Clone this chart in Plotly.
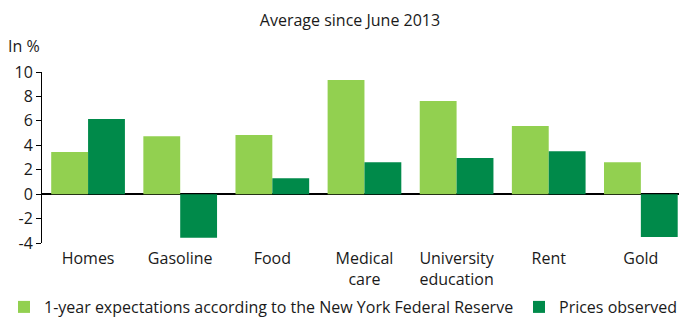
import plotly.graph_objects as go

categories = ["Homes", "Gasoline", "Food", "Medical<br>care", "University<br>education", "Rent", "Gold"]
expectations = [3.45, 4.75, 4.84, 9.34, 7.62, 5.57, 2.62]
observed = [6.15, -3.58, 1.31, 2.62, 2.95, 3.52, -3.5]
y_ticks = [-4, -2, 0, 2, 4, 6, 8, 10]
y_ticktext = ["-4", "-2", "0", "2", "4", "6", "8", "10"]

FONT = "Open Sans"
TXT = "#1a1a1a"
W, H = 679, 318

fig = go.Figure()
fig.add_trace(go.Bar(
    x=categories, y=expectations,
    name="1-year expectations according to the New York Federal Reserve",
    marker=dict(color="#92D050", line=dict(width=0)),
    legend="legend",
))
fig.add_trace(go.Bar(
    x=categories, y=observed,
    name="Prices observed",
    marker=dict(color="#008A4A", line=dict(width=0)),
    legend="legend2",
))

leg_common = dict(orientation="h", xref="container", yref="container",
                  xanchor="left", yanchor="middle", y=1 - 307 / H,
                  font=dict(size=16, color=TXT), itemwidth=30,
                  bgcolor="rgba(0,0,0,0)", borderwidth=0)

fig.update_layout(
    width=W, height=H,
    margin=dict(l=42, r=0, t=72, b=75, autoexpand=False),
    paper_bgcolor="white", plot_bgcolor="white",
    font=dict(family=FONT, size=16, color=TXT),
    barmode="group", bargap=0.2, bargroupgap=0,
    title=dict(text="Average since June 2013", x=350 / W, xanchor="center",
               y=1 - 20 / H, yanchor="middle", font=dict(size=16, color=TXT)),
    showlegend=True,
    legend=dict(x=4 / W, **leg_common),
    legend2=dict(x=519 / W, **leg_common),
    xaxis=dict(range=[-0.5, 6.414], showline=False, ticks="", showgrid=False,
               tickfont=dict(size=16, color=TXT), zeroline=False,
               ticklabelstandoff=4),
    yaxis=dict(range=[-4, 10], tickvals=y_ticks, ticktext=y_ticktext,
               ticks="outside", ticklen=5,
               tickcolor="black", showline=True, linecolor="black", linewidth=1,
               showgrid=False, zeroline=True, zerolinecolor="black", zerolinewidth=1.5,
               tickfont=dict(size=16, color=TXT)),
    annotations=[dict(text="In %", xref="paper", yref="paper", x=-36 / 637, y=1 + 26 / 171,
                      xanchor="left", yanchor="middle", showarrow=False,
                      font=dict(size=16, color=TXT))],
)

fig.write_html("out.html", config={"displayModeBar": False},
               post_script="document.body.style.margin='0';document.body.style.padding='0';")
